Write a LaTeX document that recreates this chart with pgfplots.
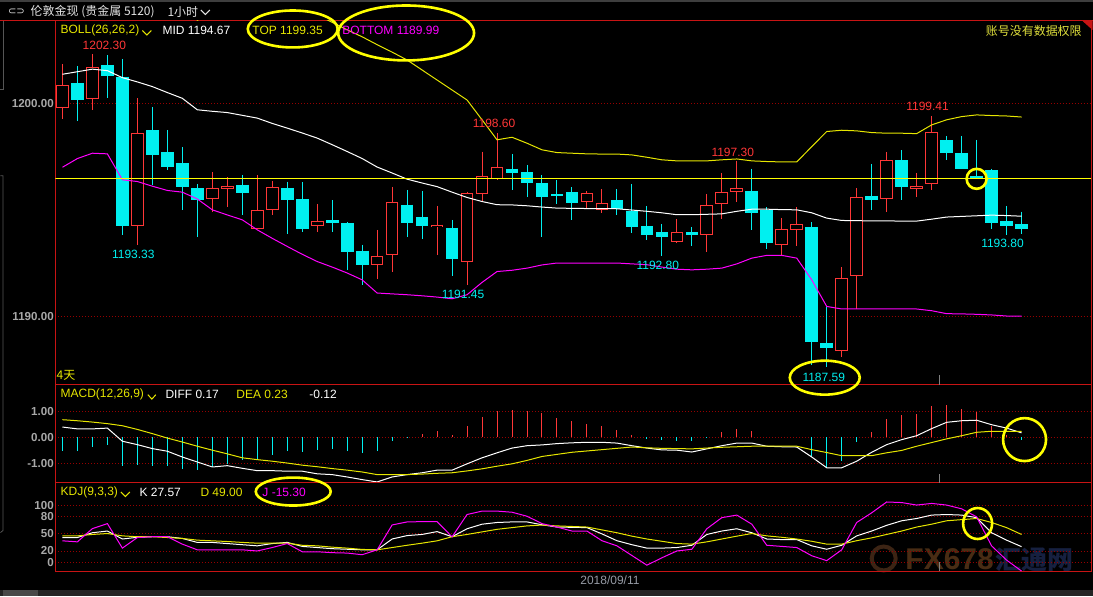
\documentclass[border=0pt]{standalone}
\usepackage{pgfplots}
\pgfplotsset{compat=1.18}
\usepackage{pgfplotstable}
\usepackage{fontspec}
\setmainfont{Liberation Sans}
\newfontfamily\cjk{Noto Sans CJK SC}
\newfontfamily\dv{DejaVu Sans}
\definecolor{cred}{RGB}{255,55,55}
\definecolor{ccyan}{RGB}{0,240,240}
\definecolor{cyel}{RGB}{230,230,0}
\definecolor{cann}{RGB}{255,255,0}
\definecolor{cmag}{RGB}{255,0,255}
\definecolor{cframe}{RGB}{200,20,20}
\definecolor{cgrid}{RGB}{150,0,0}
\definecolor{cgray}{RGB}{168,168,168}
\definecolor{ctitle}{RGB}{228,228,228}
\definecolor{cwarn}{RGB}{225,225,60}
\definecolor{cside}{RGB}{85,85,85}
\definecolor{ctop}{RGB}{62,62,62}
\definecolor{cbar}{RGB}{36,36,36}
\definecolor{cbar2}{RGB}{72,72,72}
\definecolor{cdate}{RGB}{150,155,165}
\definecolor{wmo}{RGB}{72,44,20}
\definecolor{wmlogo}{RGB}{60,36,20}
\definecolor{wmb}{RGB}{22,32,64}
\newcommand\lbl{\fontsize{12}{12}\selectfont}

% candles: index, open, high, low, close
\pgfplotstableread{
i o h l c
0 1199.79 1201.83 1199.28 1200.85
2 1200.22 1202.30 1199.69 1201.69
5 1194.21 1200.23 1193.33 1198.59
10 1195.52 1196.76 1194.91 1196.01
11 1195.96 1196.51 1195.10 1196.12
13 1194.08 1196.63 1194.08 1194.98
14 1194.96 1196.35 1194.76 1196.06
17 1194.21 1195.27 1193.93 1194.47
21 1192.38 1194.05 1191.75 1192.83
22 1192.85 1196.07 1192.08 1195.35
25 1194.19 1195.18 1192.89 1194.29
27 1192.56 1195.85 1191.45 1195.77
28 1195.71 1197.73 1195.38 1196.59
29 1196.45 1198.60 1196.40 1197.01
35 1195.35 1195.88 1195.02 1195.77
36 1194.99 1195.96 1194.86 1195.31
41 1193.50 1194.57 1193.41 1193.94
43 1193.83 1195.74 1192.99 1195.21
44 1195.26 1196.73 1194.58 1195.82
45 1195.85 1197.30 1195.38 1196.01
48 1193.33 1194.61 1192.80 1194.08
49 1194.05 1195.12 1193.27 1194.32
52 1188.34 1192.30 1188.06 1191.78
53 1191.86 1196.01 1190.33 1195.59
55 1195.49 1197.71 1194.91 1197.32
57 1195.99 1196.73 1195.57 1196.10
58 1196.20 1199.41 1195.90 1198.64
}\upc
\pgfplotstableread{
i o h l c
1 1200.94 1201.75 1199.18 1200.15
3 1201.80 1202.25 1200.26 1201.30
4 1201.25 1202.08 1193.82 1194.25
6 1198.75 1199.81 1196.16 1197.57
7 1197.71 1198.75 1196.87 1197.02
8 1197.18 1197.93 1194.96 1196.04
9 1196.01 1196.21 1193.69 1195.46
12 1196.16 1196.63 1194.76 1195.76
15 1196.02 1196.32 1193.86 1195.46
16 1195.49 1196.29 1193.96 1194.11
18 1194.52 1195.45 1193.97 1194.35
19 1194.37 1194.41 1192.17 1193.00
20 1193.07 1193.35 1191.47 1192.38
23 1195.23 1195.93 1193.69 1194.38
24 1194.66 1195.88 1193.63 1194.24
26 1194.15 1194.52 1191.86 1192.70
30 1196.92 1197.62 1195.90 1196.74
31 1196.77 1197.10 1195.57 1196.27
32 1196.26 1196.63 1193.69 1195.57
33 1195.74 1196.40 1195.26 1195.65
34 1195.82 1196.06 1194.49 1195.33
37 1195.46 1195.96 1194.76 1195.05
38 1194.94 1196.21 1193.88 1194.16
39 1194.24 1195.18 1193.58 1193.83
40 1193.94 1194.33 1192.80 1193.69
42 1193.93 1194.19 1193.27 1193.83
46 1195.88 1196.92 1194.02 1194.82
47 1195.00 1195.12 1193.17 1193.41
50 1194.19 1194.41 1187.70 1188.76
51 1188.73 1190.42 1187.59 1188.48
54 1195.65 1197.15 1194.99 1195.43
56 1197.32 1197.79 1195.43 1196.08
59 1198.26 1198.46 1197.31 1197.68
60 1197.67 1198.46 1196.92 1196.92
61 1196.60 1198.28 1196.45 1196.50
62 1196.85 1196.92 1194.08 1194.39
63 1194.46 1195.18 1193.80 1194.25
64 1194.32 1194.90 1193.86 1194.07
}\downc
% Bollinger (26,26,2)
\pgfplotstableread{
i mid top bot
0 1201.36 1205.70 1196.99
1 1201.48 1205.60 1197.40
2 1201.60 1205.55 1197.65
3 1201.53 1205.45 1197.62
4 1201.20 1206.00 1196.40
5 1201.00 1205.70 1196.32
6 1200.78 1205.45 1196.10
7 1200.50 1205.10 1195.90
8 1200.23 1204.65 1195.82
9 1199.69 1203.90 1195.50
10 1199.62 1204.25 1194.99
11 1199.56 1204.35 1194.75
12 1199.43 1204.35 1194.52
13 1199.30 1204.55 1194.05
14 1199.05 1204.45 1193.65
15 1198.83 1204.40 1193.27
16 1198.60 1204.30 1192.90
17 1198.36 1204.15 1192.56
18 1198.05 1203.80 1192.30
19 1197.73 1203.45 1192.02
20 1197.40 1203.12 1191.70
21 1197.00 1202.75 1191.08
22 1196.72 1202.40 1191.04
23 1196.43 1202.03 1191.00
24 1196.25 1201.56 1190.95
25 1196.08 1201.09 1190.89
26 1195.82 1200.62 1190.81
27 1195.57 1200.15 1191.00
28 1195.38 1199.22 1191.58
29 1195.23 1198.28 1192.09
30 1195.22 1198.40 1192.15
31 1195.18 1198.12 1192.25
32 1195.12 1197.81 1192.40
33 1195.07 1197.68 1192.49
34 1195.06 1197.65 1192.49
35 1195.05 1197.62 1192.49
36 1195.05 1197.61 1192.49
37 1195.04 1197.61 1192.49
38 1194.98 1197.57 1192.45
39 1194.92 1197.46 1192.41
40 1194.85 1197.34 1192.30
41 1194.76 1197.29 1192.20
42 1194.76 1197.29 1192.17
43 1194.78 1197.29 1192.20
44 1194.80 1197.34 1192.25
45 1194.92 1197.38 1192.45
46 1195.02 1197.29 1192.72
47 1195.02 1197.26 1192.85
48 1195.00 1197.24 1192.85
49 1194.99 1197.24 1192.72
50 1194.85 1197.96 1191.70
51 1194.60 1198.67 1190.45
52 1194.49 1198.73 1190.33
53 1194.48 1198.70 1190.33
54 1194.47 1198.62 1190.33
55 1194.47 1198.59 1190.33
56 1194.46 1198.59 1190.33
57 1194.46 1198.57 1190.33
58 1194.55 1198.98 1190.25
59 1194.65 1199.22 1190.11
60 1194.68 1199.37 1190.10
61 1194.71 1199.45 1190.08
62 1194.74 1199.42 1190.05
63 1194.72 1199.40 1190.00
64 1194.69 1199.35 1189.99
}\boll
% MACD histogram
\pgfplotstableread{
i v
24 0.14
25 0.23
26 0.10
27 0.44
28 0.76
29 0.99
30 1.05
31 1.01
32 0.92
33 0.73
34 0.61
35 0.52
36 0.42
37 0.29
38 0.10
44 0.19
45 0.33
46 0.25
54 0.19
55 0.71
56 0.86
57 0.90
58 1.20
59 1.24
60 1.08
61 0.95
62 0.44
63 0.10
}\macdpos
\pgfplotstableread{
i v
0 -0.53
1 -0.53
2 -0.37
3 -0.28
4 -1.10
5 -1.04
6 -1.08
7 -1.10
8 -1.19
9 -1.25
10 -1.14
11 -1.01
12 -0.87
13 -0.85
14 -0.66
15 -0.53
16 -0.57
17 -0.49
18 -0.43
19 -0.51
20 -0.59
21 -0.53
22 -0.13
23 -0.03
39 -0.05
40 -0.11
41 -0.15
42 -0.15
43 -0.02
50 -0.70
51 -1.13
52 -0.91
53 -0.19
64 -0.12
}\macdneg
% DIFF, DEA, K, D, J
\pgfplotstableread{
i diff dea k d j
0 0.39 0.67 43.6 46.5 37.8
1 0.32 0.63 43.6 46.5 36.0
2 0.32 0.58 52.0 49.0 59.3
3 0.35 0.52 55.0 50.6 68.0
4 -0.15 0.44 41.0 46.5 25.0
5 -0.28 0.30 44.0 45.0 43.6
6 -0.43 0.14 45.0 45.0 45.0
7 -0.53 -0.03 45.0 43.6 45.0
8 -0.75 -0.18 42.0 42.0 32.0
9 -0.94 -0.34 35.0 39.0 22.0
10 -1.13 -0.49 35.0 37.8 22.0
11 -1.08 -0.63 33.0 36.6 22.0
12 -1.18 -0.78 31.0 35.0 22.0
13 -1.27 -0.85 29.0 33.7 20.0
14 -1.27 -0.91 33.0 33.7 26.0
15 -1.29 -0.98 35.0 33.7 33.0
16 -1.29 -1.06 28.0 30.0 18.6
17 -1.39 -1.12 26.0 29.0 18.6
18 -1.42 -1.19 24.0 26.7 17.0
19 -1.51 -1.25 23.0 25.0 16.3
20 -1.61 -1.32 22.0 22.7 13.4
21 -1.70 -1.42 22.0 22.0 22.0
22 -1.51 -1.42 41.0 26.0 65.7
23 -1.42 -1.42 47.0 30.0 71.0
24 -1.35 -1.40 49.0 33.7 71.5
25 -1.25 -1.37 54.0 37.8 71.5
26 -1.25 -1.35 45.0 45.0 44.8
27 -1.01 -1.28 59.0 49.0 84.0
28 -0.78 -1.20 67.0 53.5 90.0
29 -0.59 -1.10 70.0 58.0 90.0
30 -0.41 -1.01 71.0 61.0 88.0
31 -0.32 -0.88 71.0 64.0 81.0
32 -0.29 -0.73 66.0 65.5 68.0
33 -0.24 -0.65 62.0 64.0 62.0
34 -0.21 -0.57 61.5 63.0 55.0
35 -0.19 -0.52 61.0 62.0 55.0
36 -0.19 -0.47 50.0 57.0 38.0
37 -0.22 -0.42 38.0 52.0 29.0
38 -0.32 -0.37 31.0 46.0 12.0
39 -0.41 -0.40 25.0 41.0 -5.0
40 -0.48 -0.42 25.0 37.0 8.0
41 -0.49 -0.43 26.0 33.0 20.0
42 -0.56 -0.44 30.0 32.0 23.0
43 -0.44 -0.41 49.0 36.0 59.0
44 -0.32 -0.38 55.0 41.0 78.5
45 -0.22 -0.36 59.0 46.0 83.0
46 -0.22 -0.34 52.0 50.6 67.0
47 -0.34 -0.34 41.0 46.5 30.0
48 -0.36 -0.34 40.0 44.0 28.0
49 -0.37 -0.34 40.0 41.0 26.0
50 -0.75 -0.47 29.0 37.0 11.6
51 -1.16 -0.58 23.0 32.0 3.0
52 -1.16 -0.70 30.0 32.0 22.0
53 -0.91 -0.70 46.5 38.0 70.0
54 -0.57 -0.70 55.0 43.0 87.0
55 -0.28 -0.59 65.0 49.0 106.0
56 -0.09 -0.50 73.0 55.0 105.0
57 0.06 -0.34 77.0 62.0 100.6
58 0.33 -0.20 83.0 67.0 103.5
59 0.57 -0.06 84.0 73.0 100.6
60 0.63 0.06 83.0 75.0 94.0
61 0.65 0.19 78.5 77.0 80.0
62 0.48 0.23 52.0 70.0 29.0
63 0.35 0.23 39.0 61.0 4.0
64 0.17 0.23 27.57 49.00 -15.30
}\ind

\pgfplotsset{panel/.style={
  anchor=south west, scale only axis, width=1036.7pt,
  xmin=-0.467, xmax=68.647,
  axis line style={draw=cframe, line width=1pt},
  xtick=\empty, tick style={draw=none},
  ymajorgrids, grid style={draw=cgrid, line width=0.8pt, dash pattern=on 1pt off 2pt},
  yticklabel style={text=cgray, font=\fontsize{11.6}{12}\selectfont\bfseries, inner sep=1.5pt},
  clip=true},
  eb/.style 2 args={draw=none, forget plot, error bars/.cd, y dir=minus, y explicit,
  error mark=none, error bar style={draw=#1, line width=#2}}
}

\begin{document}
\begin{tikzpicture}
\fill[black] (0pt,0pt) rectangle (1093pt,597pt);
\fill[ctop] (0pt,595pt) rectangle (1093pt,597pt);
\fill[cbar] (0pt,0pt) rectangle (1093pt,6pt);
\fill[cbar2] (3pt,0pt) rectangle (38pt,6pt);
\draw[cframe, line width=1pt] (0pt,576pt) -- (1093pt,576pt);
\draw[cside, line width=0.8pt] (2.5pt,576pt) -- (2.5pt,508pt) -- (0pt,508pt);
\draw[cside, line width=0.8pt] (0pt,421pt) -- (2.5pt,421pt) -- (2.5pt,66pt) -- (0pt,64pt);

% watermark (behind the indicator lines)
\draw[wmlogo, line width=4pt] (884pt,38pt) circle (12pt);
\node[text=wmo, font=\fontsize{30}{30}\selectfont\bfseries] at (950pt,37pt) {FX678};
\node[text=wmb, font=\cjk\fontsize{26}{26}\selectfont\bfseries] at (1035pt,37pt) {汇通网};

% ---------------- price panel
\begin{axis}[panel, at={(55pt,212pt)}, height=364pt,
  ymin=1186.775, ymax=1203.864, ytick={1190,1200}, yticklabels={1190.00,1200.00}]
\addplot[eb={cred}{1pt}] table[x=i, y=h, y error minus expr=\thisrow{h}-\thisrow{l}] {\upc};
\addplot[eb={ccyan}{1pt}] table[x=i, y=h, y error minus expr=\thisrow{h}-\thisrow{l}] {\downc};
\addplot[eb={ccyan}{12.7pt}] table[x=i, y=o, y error minus expr=\thisrow{o}-\thisrow{c}] {\downc};
\addplot[eb={cred}{12.7pt}] table[x=i, y=c, y error minus expr=\thisrow{c}-\thisrow{o}] {\upc};
\addplot[eb={black}{10.7pt}] table[x=i, y expr=\thisrow{c}-0.047, y error minus expr={max(\thisrow{c}-\thisrow{o}-0.094,0)}] {\upc};
\addplot[draw=white, line width=1pt] table[x=i, y=mid] {\boll};
\addplot[draw=cyel, line width=1pt] table[x=i, y=top] {\boll};
\addplot[draw=cmag, line width=1pt] table[x=i, y=bot] {\boll};
\addplot[draw=cann, line width=1pt] coordinates {(-0.467,1196.44) (68.647,1196.44)};
\node[text=cred, font=\lbl] at (axis cs:2.8,1202.74) {1202.30};
\node[text=ccyan, font=\lbl] at (axis cs:4.73,1192.92) {1193.33};
\node[text=cred, font=\lbl] at (axis cs:28.8,1199.03) {1198.60};
\node[text=ccyan, font=\lbl] at (axis cs:26.73,1191.0) {1191.45};
\node[text=cred, font=\lbl] at (axis cs:44.73,1197.71) {1197.30};
\node[text=ccyan, font=\lbl] at (axis cs:39.73,1192.36) {1192.80};
\node[text=cred, font=\lbl] at (axis cs:57.73,1199.83) {1199.41};
\node[text=ccyan, font=\lbl] at (axis cs:62.73,1193.39) {1193.80};
\node[text=ccyan, font=\lbl] at (axis cs:50.8,1187.10) {1187.59};
\end{axis}

% ---------------- MACD panel
\begin{axis}[panel, at={(55pt,113.7pt)}, height=98.3pt,
  ymin=-1.734, ymax=2.004, ytick={-1,0,1}, yticklabels={-1.00,0.00,1.00}]
\addplot[ycomb, draw=ccyan, line width=1pt] table[x=i, y=v] {\macdneg};
\addplot[ycomb, draw=cred, line width=1pt] table[x=i, y=v] {\macdpos};
\addplot[draw=white, line width=1pt] table[x=i, y=diff] {\ind};
\addplot[draw=cyel, line width=1pt] table[x=i, y=dea] {\ind};
\end{axis}

% ---------------- KDJ panel
\begin{axis}[panel, at={(55pt,25.3pt)}, height=88.4pt, axis background/.style={fill=none},
  ymin=-15.5, ymax=139.6, ytick={0,20,50,80,100}, yticklabels={0,20,50,80,100}]
\addplot[draw=white, line width=1pt] table[x=i, y=k] {\ind};
\addplot[draw=cyel, line width=1pt] table[x=i, y=d] {\ind};
\addplot[draw=cmag, line width=1pt] table[x=i, y=j] {\ind};
\end{axis}

% date separator ticks
\draw[gray, line width=1.2pt] (940pt,212pt) -- (940pt,222pt);
\draw[gray, line width=1.2pt] (940pt,113.7pt) -- (940pt,123pt);
\draw[gray, line width=1.2pt] (940pt,25.3pt) -- (940pt,34pt);
\node[text=cdate, font=\lbl] at (610pt,16pt) {2018/09/11};

% title bar
\node[anchor=center, text=ctitle, font=\dv\fontsize{10}{10}\selectfont] at (16pt,585pt) {⊂⊃};
\node[anchor=west, inner sep=0pt, text=ctitle, font=\cjk\fontsize{12}{12}\selectfont] at (30pt,585pt) {伦敦金现 (贵金属 5120)};
\node[anchor=west, inner sep=0pt, text=ctitle, font=\cjk\fontsize{12}{12}\selectfont] at (167pt,585pt) {1小时};
\draw[ctitle, line width=1pt] (200.5pt,587pt) -- (205pt,582.5pt) -- (209.5pt,587pt);
\fill[cframe] (1083pt,576pt) -- (1093pt,576pt) -- (1093pt,567pt) -- cycle;

% legends
\node[anchor=west, inner sep=0pt, text=cyel, font=\lbl] at (60pt,567pt) {BOLL(26,26,2)};
\draw[cyel, line width=1pt] (142pt,566.5pt) -- (146.5pt,562pt) -- (151pt,566.5pt);
\node[anchor=west, inner sep=0pt, text=white, font=\lbl] at (162pt,567pt) {MID 1194.67};
\node[anchor=west, inner sep=0pt, text=cyel, font=\lbl] at (252pt,567pt) {TOP 1199.35};
\node[anchor=west, inner sep=0pt, text=cmag, font=\lbl] at (342pt,567pt) {BOTTOM 1189.99};
\node[anchor=west, inner sep=0pt, text=cwarn, font=\cjk\fontsize{12}{12}\selectfont] at (986pt,565.5pt) {账号没有数据权限};

\node[anchor=west, inner sep=0pt, text=cyel, font=\cjk\fontsize{12}{12}\selectfont] at (56pt,221pt) {4天};
\node[anchor=west, inner sep=0pt, text=cyel, font=\lbl] at (60pt,202.5pt) {MACD(12,26,9)};
\draw[cyel, line width=1pt] (147.5pt,202pt) -- (151.5pt,197.5pt) -- (155.5pt,202pt);
\node[anchor=west, inner sep=0pt, text=white, font=\lbl] at (165pt,202.5pt) {DIFF 0.17};
\node[anchor=west, inner sep=0pt, text=cyel, font=\lbl] at (236pt,202.5pt) {DEA 0.23};
\node[anchor=west, inner sep=0pt, text=white, font=\lbl] at (309pt,202.5pt) {-0.12};

\node[anchor=west, inner sep=0pt, text=cyel, font=\lbl] at (60pt,104.5pt) {KDJ(9,3,3)};
\draw[cyel, line width=1pt] (120.5pt,104.5pt) -- (125pt,100pt) -- (129.5pt,104.5pt);
\node[anchor=west, inner sep=0pt, text=white, font=\lbl] at (139pt,104.5pt) {K 27.57};
\node[anchor=west, inner sep=0pt, text=cyel, font=\lbl] at (200pt,104.5pt) {D 49.00};
\node[anchor=west, inner sep=0pt, text=cmag, font=\lbl] at (262pt,104.5pt) {J -15.30};

% highlight ellipses
\draw[cann, line width=2.6pt] (292.5pt,568pt) ellipse (45pt and 18.5pt);
\draw[cann, line width=2.6pt] (406pt,564pt) ellipse (68pt and 27.5pt);
\draw[cann, line width=2.6pt] (977pt,418pt) circle (10pt);
\draw[cann, line width=2.6pt] (825pt,219pt) ellipse (35pt and 17pt);
\draw[cann, line width=2.6pt] (1025pt,157pt) ellipse (21.5pt and 21.5pt);
\draw[cann, line width=2.6pt] (293pt,105pt) ellipse (37.5pt and 14pt);
\draw[cann, line width=2.6pt] (978pt,73pt) ellipse (14.5pt and 15.5pt);
\end{tikzpicture}
\end{document}
